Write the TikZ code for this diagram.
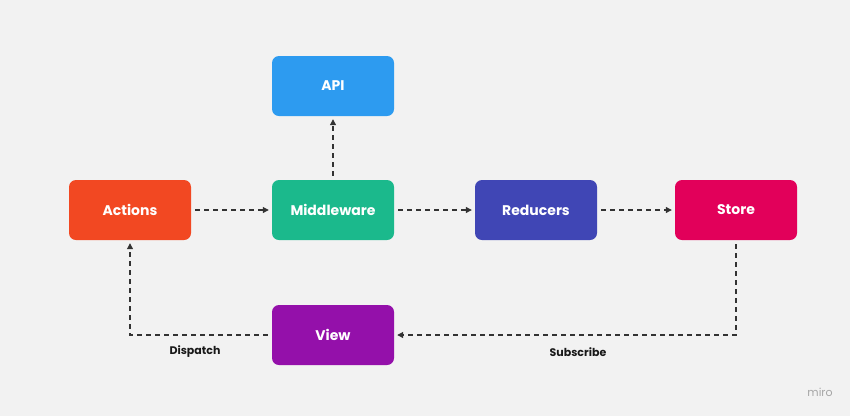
\documentclass[tikz,border=0pt]{standalone}
\usepackage{fontspec}
\setmainfont{Poppins}
\usetikzlibrary{arrows.meta}
\definecolor{bg}{HTML}{F2F2F2}
\definecolor{cAct}{HTML}{F24822}
\definecolor{cMid}{HTML}{1BB98C}
\definecolor{cRed}{HTML}{4046B5}
\definecolor{cSto}{HTML}{E2005A}
\definecolor{cApi}{HTML}{2D9BF0}
\definecolor{cView}{HTML}{9410AA}
\definecolor{ln}{HTML}{333333}
\begin{document}
\begin{tikzpicture}[x=1pt,y=-1pt,
  box/.style={rounded corners=7pt,minimum width=122pt,minimum height=60pt,inner sep=0pt,text=white,font=\fontsize{14}{16}\selectfont\bfseries},
  con/.style={draw=ln,line width=1.1pt,dash pattern=on 5pt off 4pt,-{Triangle[length=6pt,width=6pt]},shorten >=3pt,shorten <=4pt},
  lab/.style={font=\fontsize{11}{13}\selectfont\bfseries,text=black!90}]
\fill[bg] (0,0) rectangle (850,416);
\useasboundingbox (0,0) rectangle (850,416);
\node[box,fill=cAct] (act) at (130,210) {Actions};
\node[box,fill=cMid] (mid) at (333,210) {Middleware};
\node[box,fill=cRed] (red) at (536,210) {Reducers};
\node[box,fill=cSto] (sto) at (736,210) {Store};
\node[box,fill=cApi] (api) at (333,86) {API};
\node[box,fill=cView] (view) at (333,335) {View};
\draw[con] (act) -- (mid);
\draw[con] (mid) -- (api);
\draw[con] (mid) -- (red);
\draw[con] (red) -- (sto);
\draw[con] (sto.south) |- (view.east);
\draw[con] (view.west) -| (act.south);
\node[lab] (dis) at (195,352) {Dispatch};
\node[lab] (sub) at (578,352) {Subscribe};
\node[font=\fontsize{11}{12}\selectfont,text=black!35] (miro) at (820,392) {miro};
\end{tikzpicture}
\end{document}
